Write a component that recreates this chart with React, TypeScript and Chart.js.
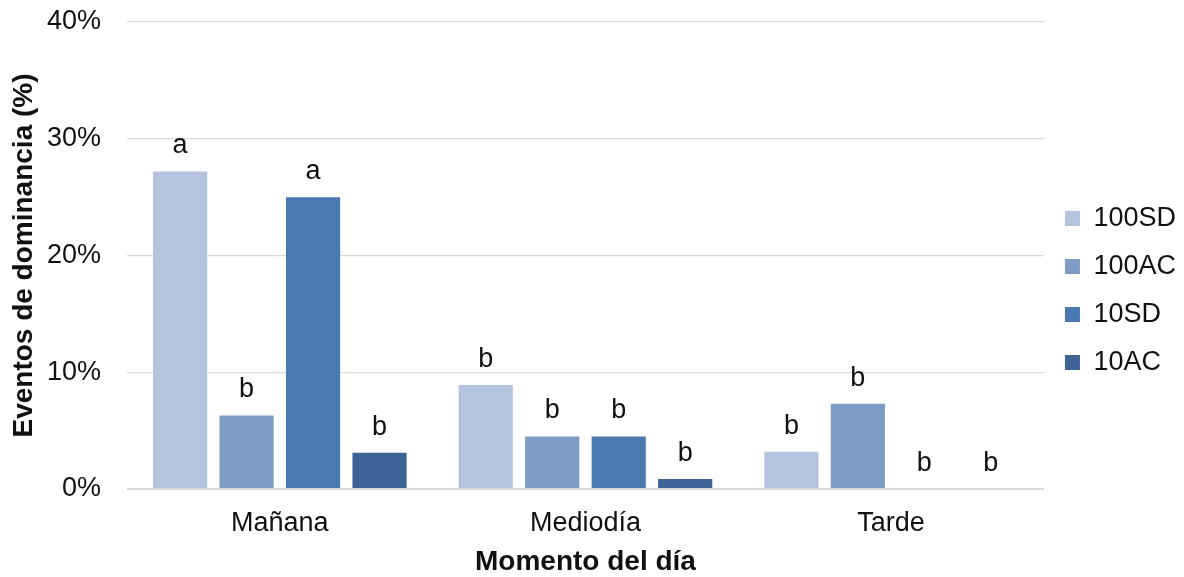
import React, { useEffect, useRef } from "react";
import { Chart, registerables } from "chart.js";

Chart.register(...registerables);

const categories = ["Mañana", "Mediodía", "Tarde"];
const seriesNames = ["100SD", "100AC", "10SD", "10AC"];
const values100SD = [27.2, 8.9, 3.2];
const values100AC = [6.3, 4.5, 7.3];
const values10SD = [25.0, 4.5, 0];
const values10AC = [3.1, 0.85, 0];
const letters100SD = ["a", "b", "b"];
const letters100AC = ["b", "b", "b"];
const letters10SD = ["a", "b", "b"];
const letters10AC = ["b", "b", "b"];
const colors = ["#B4C3DE", "#7F9CC7", "#4A78B0", "#3D6397"];
const yTicks = [0, 10, 20, 30, 40];

const FONT = "'Liberation Sans', Arial, sans-serif";
const TEXT = "#111111";

const letterPlugin = {
  id: "letters",
  afterDatasetsDraw(chart: any) {
    const ctx = chart.ctx;
    ctx.save();
    ctx.font = `27px ${FONT}`;
    ctx.fillStyle = TEXT;
    ctx.textAlign = "center";
    ctx.textBaseline = "alphabetic";
    chart.data.datasets.forEach((ds: any, i: number) => {
      const meta = chart.getDatasetMeta(i);
      meta.data.forEach((el: any, j: number) => {
        const t = ds.letters[j];
        if (t) ctx.fillText(t, el.x, el.y - 18);
      });
    });
    ctx.restore();
  },
};

export default function App() {
  const ref = useRef<HTMLCanvasElement | null>(null);
  useEffect(() => {
    if (!ref.current) return;
    const allValues = [values100SD, values100AC, values10SD, values10AC];
    const allLetters = [letters100SD, letters100AC, letters10SD, letters10AC];
    const chart = new Chart(ref.current, {
      type: "bar",
      data: {
        labels: categories,
        datasets: seriesNames.map((n, i) => ({
          label: n,
          data: allValues[i],
          backgroundColor: colors[i],
          borderWidth: 0,
          categoryPercentage: 0.87,
          barPercentage: 0.815,
          letters: allLetters[i],
        })) as any,
      },
      options: {
        animation: false,
        responsive: true,
        maintainAspectRatio: false,
        layout: { padding: { top: 4, bottom: 0, left: 3, right: -2 } },
        plugins: {
          tooltip: { enabled: false },
          legend: {
            position: "right",
            labels: {
              boxWidth: 15,
              boxHeight: 15,
              padding: 21,
              color: TEXT,
              font: { family: FONT, size: 27 },
            },
          },
        },
        scales: {
          x: {
            grid: { display: false, drawTicks: false },
            border: { display: false },
            ticks: { color: TEXT, font: { family: FONT, size: 27 }, padding: 18 },
            title: {
              display: true,
              text: "Momento del día",
              color: TEXT,
              font: { family: FONT, size: 28, weight: "bold" },
              padding: { top: 0, bottom: -2 },
            },
            afterFit: (scale: any) => {
              scale.height = 88;
            },
          },
          y: {
            min: 0,
            max: 40,
            afterBuildTicks: (axis: any) => {
              axis.ticks = yTicks.map((v) => ({ value: v }));
            },
            afterFit: (scale: any) => {
              scale.width = 124;
              scale.paddingTop = 22;
              scale.paddingBottom = 0;
            },
            border: { display: false },
            grid: {
              color: "#D9D9D9",
              lineWidth: (c: any) => (c.tick && c.tick.value === 0 ? 2 : 1.3),
              drawTicks: false,
            },
            ticks: {
              color: TEXT,
              font: { family: FONT, size: 27 },
              padding: 26,
              callback: (v: any) => v + "%",
            },
            title: {
              display: true,
              text: "Eventos de dominancia (%)",
              color: TEXT,
              font: { family: FONT, size: 28, weight: "bold" },
              padding: { top: 4, bottom: 8 },
            },
          },
        },
      },
      plugins: [letterPlugin],
    });
    return () => chart.destroy();
  }, []);
  return (
    <div style={{ position: "absolute", left: 0, top: 0, width: 1184, height: 577, background: "#fff" }}>
      <canvas ref={ref} />
    </div>
  );
}
